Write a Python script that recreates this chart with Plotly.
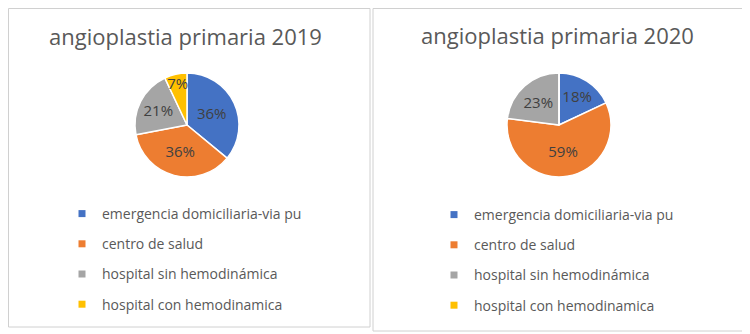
import plotly.graph_objects as go

# page body has an 8px margin; the figure is sized/offset to fit the window
OFF = 8
W, H = 750 - OFF, 334 - OFF

categories = ["emergencia domiciliaria-via pu", "centro de salud",
              "hospital sin hemodinámica", "hospital con hemodinamica"]
values_2019 = [36, 36, 21, 7]
values_2020 = [18, 59, 23, 0]
titles = ["angioplastia primaria 2019", "angioplastia primaria 2020"]
colors = ["#4472C4", "#ED7D31", "#A5A5A5", "#FFC000"]

FONT = "Open Sans"


def px(x):
    return (x - OFF) / W


def py(y):
    return 1 - (y - OFF) / H


fig = go.Figure()

pies = [
    (values_2019, (135, 239), (73, 177)),
    (values_2020, (507, 611), (73, 177)),
]
for vals, (x0, x1), (y0, y1) in pies:
    fig.add_trace(go.Pie(
        labels=categories, values=vals, sort=False, direction="clockwise",
        rotation=0, showlegend=False,
        marker=dict(colors=colors, line=dict(color="white", width=1.5)),
        texttemplate=["%{percent:.0%}" if v > 0 else "" for v in vals],
        textposition="inside", insidetextorientation="horizontal",
        insidetextfont=dict(color="#404040", size=15, family=FONT),
        domain=dict(x=[px(x0), px(x1)], y=[py(y1), py(y0)]),
        hoverinfo="label+percent",
    ))

# legend entries (one group per category so spacing can match)
for legname in ["legend", "legend2"]:
    for cat, col in zip(categories, colors):
        fig.add_trace(go.Scatter(
            x=[None], y=[None], mode="markers", name=cat,
            marker=dict(symbol="square", size=7, color=col),
            legend=legname, legendgroup=legname + cat, showlegend=True,
        ))

leg_common = dict(
    font=dict(family=FONT, size=14, color="#595959"),
    bgcolor="rgba(0,0,0,0)", traceorder="grouped", tracegroupgap=9,
    xanchor="left", yanchor="top", itemclick=False,
)

shapes = [
    dict(type="rect", xref="paper", yref="paper", x0=px(8.5), x1=px(370),
         y0=py(327), y1=py(8.5), line=dict(color="#D0D0D0", width=1)),
    dict(type="rect", xref="paper", yref="paper", x0=px(373), x1=px(745),
         y0=py(331), y1=py(8.5), line=dict(color="#D0D0D0", width=1)),
]

annotations = [
    dict(text=titles[0], x=px(185), y=py(36), xref="paper", yref="paper",
         xanchor="center", yanchor="middle", showarrow=False,
         font=dict(family=FONT, size=22, color="#595959")),
    dict(text=titles[1], x=px(557), y=py(35), xref="paper", yref="paper",
         xanchor="center", yanchor="middle", showarrow=False,
         font=dict(family=FONT, size=22, color="#595959")),
]

fig.update_layout(
    width=W, height=H, margin=dict(l=0, r=0, t=0, b=0),
    paper_bgcolor="white", plot_bgcolor="white",
    xaxis=dict(visible=False), yaxis=dict(visible=False),
    legend=dict(x=px(62), y=py(198), **leg_common),
    legend2=dict(x=px(434), y=py(199), **leg_common),
    uniformtext=dict(minsize=15, mode="show"),
    shapes=shapes, annotations=annotations,
)

fig.write_html("out.html")
